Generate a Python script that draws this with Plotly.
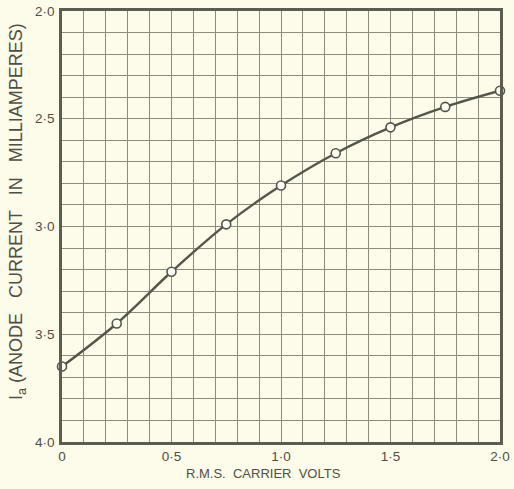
import plotly.graph_objects as go

carrier_volts = [0.0, 0.25, 0.5, 0.75, 1.0, 1.25, 1.5, 1.75, 2.0]
anode_ma = [3.65, 3.45, 3.21, 2.99, 2.81, 2.66, 2.54, 2.445, 2.37]

x_ticks = [0, 0.5, 1.0, 1.5, 2.0]
x_tick_labels = ["0", "0·5", "1·0", "1·5", "2·0"]
y_ticks = [2.0, 2.5, 3.0, 3.5, 4.0]
y_tick_labels = ["2·0", "2·5", "3·0", "3·5", "4·0"]

bg = "#fdfbe9"
grid = "#8c8c7c"
frame = "#5c5c50"
ink = "#55554a"
txt = "#4f4f46"
font = dict(family="Liberation Sans, Arial, sans-serif", size=13.5, color=txt)

fig = go.Figure()
fig.add_trace(go.Scatter(
    x=carrier_volts, y=anode_ma, mode="lines+markers",
    line=dict(color=ink, width=2.4, shape="spline", smoothing=1.0),
    marker=dict(symbol="circle", size=9, color="#fffef5",
                line=dict(color=ink, width=1.6)),
    cliponaxis=False, showlegend=False,
))

fig.update_layout(
    width=514, height=489,
    margin=dict(l=62, r=14, t=11, b=47),
    paper_bgcolor=bg, plot_bgcolor=bg,
    font=font,
    xaxis=dict(
        range=[0, 2.0], showgrid=True, automargin=False,
        gridcolor=grid, gridwidth=1.2,
        tickmode="array", tickvals=x_ticks, ticktext=x_tick_labels,
        showline=True, linecolor=frame, linewidth=2.5, mirror=True,
        ticks="", zeroline=False, ticklabelstandoff=0,
    ),
    yaxis=dict(
        range=[4.0, 2.0], showgrid=True, automargin=False,
        gridcolor=grid, gridwidth=1.2,
        tickmode="array", tickvals=y_ticks, ticktext=y_tick_labels,
        showline=True, linecolor=frame, linewidth=2.5, mirror=True,
        ticks="", zeroline=False, ticklabelstandoff=2,
    ),
    annotations=[
        dict(text="R.M.S.  CARRIER  VOLTS", xref="paper", yref="paper",
             x=0.459, y=-0.074, xanchor="center", yanchor="middle",
             showarrow=False, font=dict(size=13, color=txt)),
        dict(text="I<sub>a</sub> (ANODE   CURRENT   IN   MILLIAMPERES)", xref="paper", yref="paper",
             x=-0.1, y=0.534, xanchor="center", yanchor="middle", textangle=-90,
             showarrow=False, font=dict(size=18, color=txt)),
    ],
)

fig.update_xaxes(minor=dict(dtick=0.1, tick0=0, showgrid=True, gridcolor=grid, gridwidth=1.2))
fig.update_yaxes(minor=dict(dtick=0.1, tick0=2.0, showgrid=True, gridcolor=grid, gridwidth=1.2))

fig.write_html("out.html")
